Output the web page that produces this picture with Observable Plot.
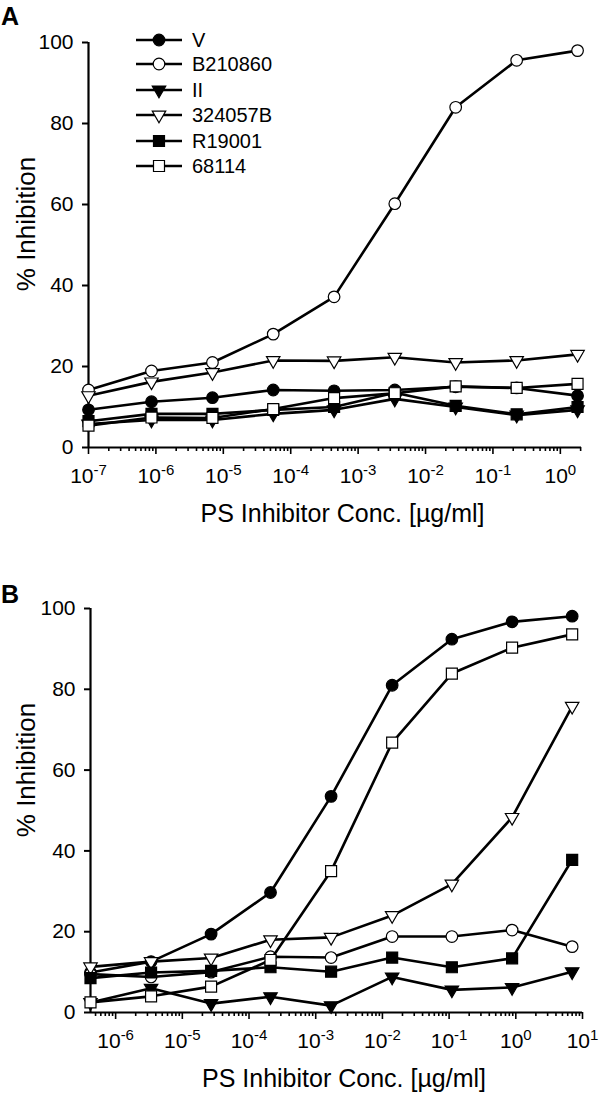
<!DOCTYPE html>
<html><head><meta charset="utf-8">
<script src="https://cdn.jsdelivr.net/npm/d3@7"></script>
<script src="https://cdn.jsdelivr.net/npm/@observablehq/plot@0.6"></script>
<style>
body{margin:0;background:#fff;}
#chart svg{display:block;}
</style>
</head><body><div id="chart"></div>
<script>
// ---------- data ----------
const series = ["V", "B210860", "II", "324057B", "R19001", "68114"];
const yTicks = [0, 20, 40, 60, 80, 100];

// Panel A
const concA = [1.0e-7, 8.6e-7, 6.9e-6, 5.5e-5, 4.4e-4, 3.5e-3, 2.8e-2, 0.225, 1.8];
const decadesA = [-7, -6, -5, -4, -3, -2, -1, 0];
const aV       = [9.3, 11.3, 12.3, 14.2, 14.0, 14.2, 15.0, 14.7, 12.8];
const aB210860 = [14.2, 18.9, 21.0, 28.0, 37.2, 60.2, 84.0, 95.6, 98.0];
const aII      = [5.8, 6.8, 6.8, 8.3, 9.3, 12.0, 10.0, 8.0, 9.3];
const a324057B = [12.8, 16.2, 18.5, 21.5, 21.4, 22.3, 21.0, 21.5, 23.0];
const aR19001  = [6.5, 8.3, 8.3, 9.3, 10.0, 13.5, 10.3, 8.2, 10.0];
const a68114   = [5.4, 7.4, 7.3, 9.5, 12.2, 13.4, 15.1, 14.7, 15.7];

// Panel B
const concB = [4.2e-7, 3.4e-6, 2.7e-5, 2.1e-4, 1.7e-3, 1.4e-2, 0.11, 0.88, 7.0];
const decadesB = [-6, -5, -4, -3, -2, -1, 0, 1];
const bV       = [9.9, 12.6, 19.4, 29.7, 53.5, 81.0, 92.4, 96.7, 98.1];
const bB210860 = [9.5, 8.8, 10.0, 13.8, 13.6, 18.8, 18.8, 20.4, 16.3];
const bII      = [2.5, 6.0, 2.2, 3.9, 1.7, 8.8, 5.6, 6.2, 10.1];
const b324057B = [11.3, 12.6, 13.5, 18.0, 18.6, 24.0, 31.8, 48.3, 75.8];
const bR19001  = [8.5, 9.9, 10.3, 11.2, 10.1, 13.6, 11.2, 13.4, 37.8];
const b68114   = [2.5, 4.0, 6.4, 13.0, 35.0, 66.8, 83.9, 90.3, 93.6];

const xTitle = "PS Inhibitor Conc. [\u00b5g/ml]";
const yTitle = "% Inhibition";

// ---------- styles ----------
const FONT = '"Liberation Sans", Arial, Helvetica, sans-serif';
const invTriangle = {
  draw(context, size) {
    const s3 = Math.sqrt(3);
    const y = -Math.sqrt(size / (s3 * 3));
    context.moveTo(0, -y * 2);
    context.lineTo(-s3 * y, y);
    context.lineTo(s3 * y, y);
    context.closePath();
  }
};
const symbols = ["circle", "circle", invTriangle, invTriangle, "square", "square"];
const d3symbols = [d3.symbolCircle, d3.symbolCircle, invTriangle, invTriangle, d3.symbolSquare, d3.symbolSquare];
const fills = ["#000", "#fff", "#000", "#fff", "#000", "#fff"];
const radii = [5.8, 5.8, 5.0, 5.0, 6.2, 6.2];
const NS = "http://www.w3.org/2000/svg";

function makePanel(cfg) {
  const {conc, vals, xDomain, decades, height, mt, mb, ml, mr, letter, letterY, yTitleY, legend} = cfg;
  const rows = [];
  series.forEach((s, i) => conc.forEach((c, j) => rows.push({s, c, v: vals[i][j]})));
  const minor = [];
  for (let e = Math.floor(Math.log10(xDomain[0])); e <= Math.ceil(Math.log10(xDomain[1])); e++)
    for (let m = 2; m <= 9; m++) { const v = m * Math.pow(10, e); if (v >= xDomain[0] && v <= xDomain[1]) minor.push(v); }
  const majors = decades.map(e => Math.pow(10, e));

  const marks = [
    Plot.axisX(minor, {tickSize: 4, tickFormat: () => "", label: null, strokeWidth: 1.6}),
    Plot.axisX(majors, {tickSize: 7, tickPadding: 14, fontSize: 21, label: null, strokeWidth: 1.6,
      tickFormat: d => String(Math.round(Math.log10(d)))}),
    Plot.axisY(yTicks, {tickSize: 6, tickPadding: 9, fontSize: 21, label: null, strokeWidth: 2}),
    Plot.ruleY([0], {stroke: "#000", strokeWidth: 2.2}),
    Plot.ruleX([xDomain[0]], {y1: 0, y2: 100, stroke: "#000", strokeWidth: 2.2})
  ];
  series.forEach((s, i) => {
    const d = rows.filter(r => r.s === s);
    marks.push(Plot.line(d, {x: "c", y: "v", stroke: "#000", strokeWidth: 2.6}));
    marks.push(Plot.dot(d, {x: "c", y: "v", symbol: symbols[i], r: radii[i], fill: fills[i], stroke: "#000", strokeWidth: 1.2}));
  });

  const svg = Plot.plot({
    width: 600, height,
    marginTop: mt, marginBottom: mb, marginLeft: ml, marginRight: mr,
    style: {fontFamily: FONT, fontSize: "21px", color: "#000", background: "#fff", overflow: "visible"},
    x: {type: "log", domain: xDomain},
    y: {domain: [0, 100]},
    marks
  });

  // superscript exponents on x tick labels
  svg.querySelectorAll('[aria-label="x-axis tick label"] text').forEach(t => {
    const e = t.textContent;
    if (!e) return;
    t.textContent = "10";
    const ts = document.createElementNS(NS, "tspan");
    ts.setAttribute("dy", "-8");
    ts.setAttribute("font-size", "15");
    ts.textContent = e;
    t.appendChild(ts);
  });

  const sel = d3.select(svg);
  const bottom = height - mb;
  // x title
  sel.append("text").attr("x", (ml + 600 - mr) / 2 + 8).attr("y", bottom + 75)
    .attr("text-anchor", "middle").attr("font-family", FONT).attr("font-size", 25).attr("fill", "#000")
    .text(xTitle);
  // y title
  sel.append("text").attr("transform", `translate(35,${yTitleY}) rotate(-90)`)
    .attr("text-anchor", "middle").attr("font-family", FONT).attr("font-size", 26).attr("fill", "#000")
    .text(yTitle);
  // panel letter
  sel.append("text").attr("x", 1).attr("y", letterY).attr("text-anchor", "start")
    .attr("font-family", FONT).attr("font-size", 25).attr("font-weight", "bold").attr("fill", "#000")
    .text(letter);

  if (legend) {
    const ys = [40, 64, 90, 115, 141, 166];
    series.forEach((s, i) => {
      const g = sel.append("g").attr("transform", `translate(0,${ys[i]})`);
      g.append("line").attr("x1", 136).attr("x2", 182).attr("stroke", "#000").attr("stroke-width", 2.6);
      g.append("path").attr("transform", "translate(159,0)")
        .attr("d", d3.symbol(d3symbols[i], radii[i] * radii[i] * Math.PI)())
        .attr("fill", fills[i]).attr("stroke", "#000").attr("stroke-width", 1.2);
      g.append("text").attr("x", 192).attr("y", 7).attr("text-anchor", "start")
        .attr("font-family", FONT).attr("font-size", 20)
        .attr("fill", "#000").text(s);
    });
  }
  return svg;
}

const chart = document.getElementById("chart");
chart.appendChild(makePanel({
  conc: concA, vals: [aV, aB210860, aII, a324057B, aR19001, a68114],
  xDomain: [1e-7, 2.06], decades: decadesA,
  height: 560, mt: 42, mb: 113, ml: 88, mr: 19,
  letter: "A", letterY: 25, yTitleY: 224, legend: true
}));
chart.appendChild(makePanel({
  conc: concB, vals: [bV, bB210860, bII, b324057B, bR19001, b68114],
  xDomain: [4.2e-7, 10], decades: decadesB,
  height: 534, mt: 48, mb: 82, ml: 90, mr: 18,
  letter: "B", letterY: 43, yTitleY: 210, legend: false
}));
</script>
</body></html>
